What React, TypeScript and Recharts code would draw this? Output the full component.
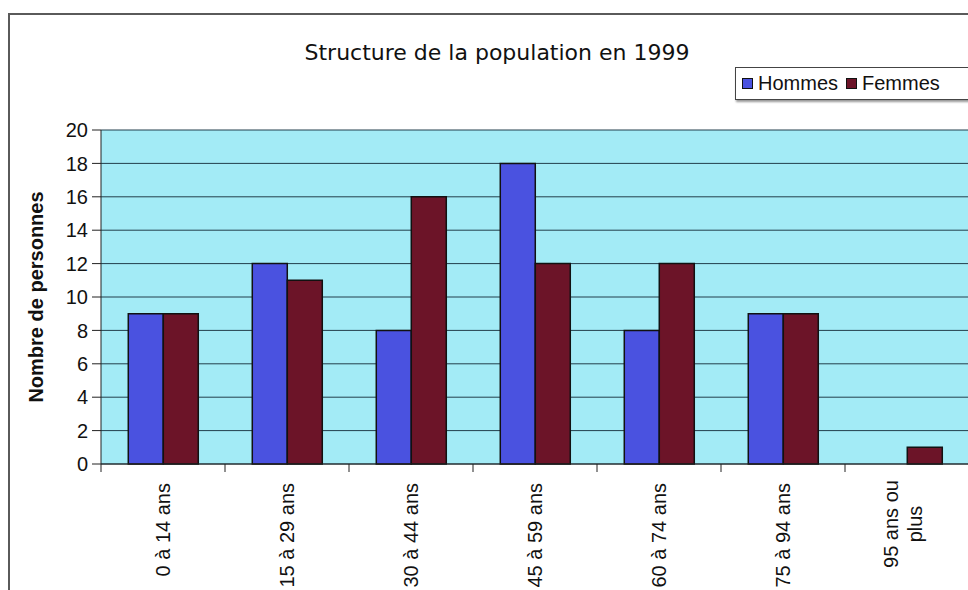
import { BarChart, Bar, XAxis, YAxis, CartesianGrid, Label } from "recharts";

const ageGroups = [
  "0 à 14 ans",
  "15 à 29 ans",
  "30 à 44 ans",
  "45 à 59 ans",
  "60 à 74 ans",
  "75 à 94 ans",
  "95 ans ou\nplus",
];
const hommes = [9, 12, 8, 18, 8, 9, 0];
const femmes = [9, 11, 16, 12, 12, 9, 1];
const yTicks = [0, 2, 4, 6, 8, 10, 12, 14, 16, 18, 20];

const data = ageGroups.map((age, i) => ({ age, Hommes: hommes[i], Femmes: femmes[i] }));

const BLUE = "#4a52e0";
const RED = "#6c1428";
const FONT = "'Liberation Sans', Arial, sans-serif";
const BAND = 124; // width of one category in px

const AgeTick = (props: any) => {
  const { x, y, payload } = props;
  const lines: string[] = String(payload.value).split("\n");
  const top = y + 19;
  return (
    <g>
      <line x1={x - BAND / 2} y1={y} x2={x - BAND / 2} y2={y + 8} stroke="#222" />
      {lines.length === 1 ? (
        <text
          x={x}
          y={top}
          dy="0.35em"
          transform={`rotate(-90 ${x} ${top})`}
          textAnchor="end"
          fontSize={20}
          fontFamily={FONT}
          fill="#111"
        >
          {lines[0]}
        </text>
      ) : (
        lines.map((line, i) => {
          const cx = x - 4 + (i - (lines.length - 1) / 2) * 24;
          const cy = top + 41;
          return (
            <text
              key={i}
              x={cx}
              y={cy}
              dy="0.35em"
              transform={`rotate(-90 ${cx} ${cy})`}
              textAnchor="middle"
              fontSize={20}
              fontFamily={FONT}
              fill="#111"
            >
              {line}
            </text>
          );
        })
      )}
    </g>
  );
};

export default function App() {
  return (
    <div
      style={{
        position: "absolute",
        left: 0,
        top: 0,
        width: 968,
        height: 590,
        overflow: "hidden",
        background: "#fff",
      }}
    >
      <div
        style={{
          position: "absolute",
          left: 8,
          top: 13,
          width: 980,
          height: 600,
          borderTop: "2px solid #5a5a5a",
          borderLeft: "2px solid #5a5a5a",
        }}
      />
      <div
        style={{
          position: "absolute",
          left: 297,
          top: 40,
          width: 400,
          textAlign: "center",
          fontFamily: "'DejaVu Sans', sans-serif",
          fontSize: 22,
          color: "#111",
        }}
      >
        Structure de la population en 1999
      </div>
      <div
        style={{
          position: "absolute",
          left: 735,
          top: 67,
          width: 260,
          height: 31,
          border: "1.5px solid #444",
          boxShadow: "1px 2px 2px #999",
          display: "flex",
          alignItems: "center",
          fontFamily: FONT,
          fontSize: 20,
          color: "#111",
          background: "#fff",
        }}
      >
        <span style={{ width: 9, height: 9, background: BLUE, border: "1px solid #111", marginLeft: 6, marginRight: 5 }} />
        Hommes
        <span style={{ width: 9, height: 9, background: RED, border: "1px solid #111", marginLeft: 8, marginRight: 5 }} />
        Femmes
      </div>
      <div style={{ position: "absolute", left: 0, top: 0 }}>
        <BarChart
          width={980}
          height={600}
          data={data}
          margin={{ top: 130, right: 11, bottom: 0, left: 0 }}
          barCategoryGap="22%"
          barGap={0}
        >
          <CartesianGrid vertical={false} stroke="#233f4c" fill="#a3ebf6" fillOpacity={1} />
          <XAxis
            dataKey="age"
            height={136}
            interval={0}
            tickLine={false}
            tickSize={0}
            tickMargin={0}
            axisLine={{ stroke: "#222" }}
            tick={<AgeTick />}
          />
          <YAxis
            width={101}
            domain={[0, 20]}
            ticks={yTicks}
            interval={0}
            tickSize={9}
            tickMargin={4}
            axisLine={{ stroke: "#222" }}
            tickLine={{ stroke: "#222" }}
            tick={{ fontSize: 20, fontFamily: FONT, fill: "#111" }}
          >
            <Label
              value="Nombre de personnes"
              angle={-90}
              position="insideLeft"
              dx={31}
              style={{ fontSize: 20, fontWeight: "bold", fontFamily: FONT, fill: "#111", textAnchor: "middle" }}
            />
          </YAxis>
          <Bar dataKey="Hommes" fill={BLUE} stroke="#111" strokeWidth={1.5} isAnimationActive={false} />
          <Bar dataKey="Femmes" fill={RED} stroke="#111" strokeWidth={1.5} isAnimationActive={false} />
        </BarChart>
      </div>
    </div>
  );
}
